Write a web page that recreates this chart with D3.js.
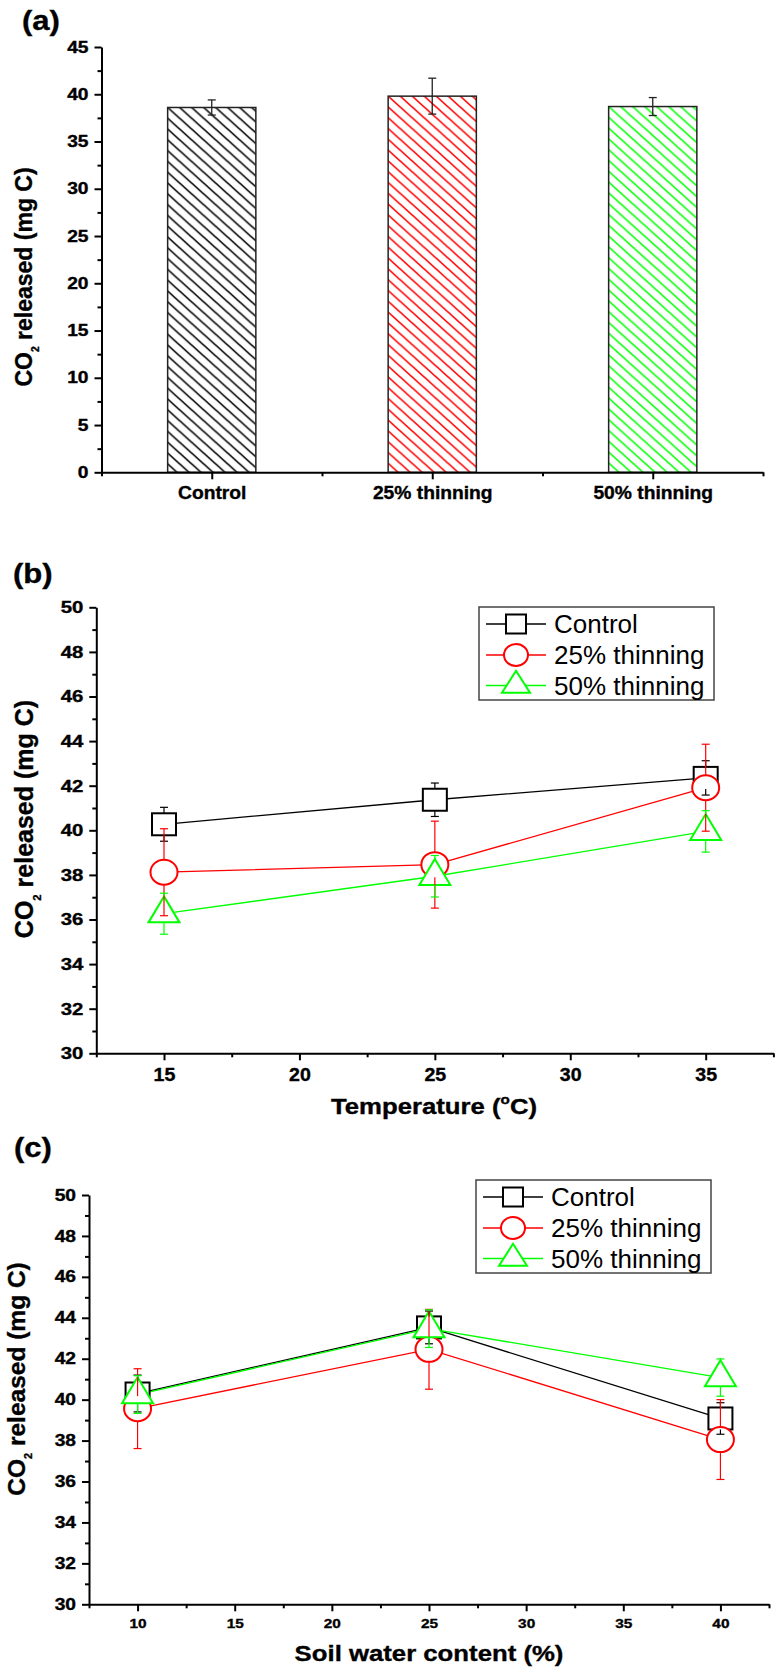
<!DOCTYPE html>
<html>
<head>
<meta charset="utf-8">
<script src="https://cdn.jsdelivr.net/npm/d3@7"></script>
<style>
  body { margin: 0; background: #fff; }
  svg { display: block; }
</style>
</head>
<body>
<script>
// ---------- data ----------
// (a) cumulative CO2 released per treatment
const barCategories = ["Control", "25% thinning", "50% thinning"];
const barMeans = [38.6, 39.8, 38.7];
const barErrors = [0.8, 1.9, 0.95];

// series shared by panels (b) and (c)
const seriesNames = ["Control", "25% thinning", "50% thinning"];
const seriesColors = ["#000000", "#ff0000", "#00ff00"];
const seriesShapes = ["square", "circle", "triangle"];

// (b) incubation temperature
const temperatures = [15, 25, 35];
const tempControl = [40.27, 41.37, 42.35];
const tempControlErr = [0.76, 0.75, 0.77];
const temp25 = [38.12, 38.46, 41.91];
const temp25Err = [1.95, 1.95, 1.95];
const temp50 = [36.26, 37.94, 39.95];
const temp50Err = [0.92, 0.93, 0.93];

// (c) soil water content
const waterContents = [10, 25, 40];
const waterControl = [40.3, 43.53, 39.08];
const waterControlErr = [0.9, 0.8, 0.77];
const water25 = [39.56, 42.46, 38.05];
const water25Err = [1.95, 1.95, 1.95];
const water50 = [40.25, 43.47, 41.08];
const water50Err = [0.92, 0.92, 0.91];

// axis ticks
const barYTicks = d3.range(0, 46, 5);
const barYMinor = d3.range(2.5, 45, 5);
const lineYTicks = d3.range(30, 51, 2);
const lineYMinor = d3.range(31, 50, 2);
const tempTicks = [15, 20, 25, 30, 35];
const tempMinor = [12.5, 17.5, 22.5, 27.5, 32.5, 37.5];
const waterTicks = [10, 15, 20, 25, 30, 35, 40];
const waterMinor = [7.5, 12.5, 17.5, 22.5, 27.5, 32.5, 37.5, 42.5];

// ---------- helpers ----------
const FONT = "'Liberation Sans', Arial, Helvetica, sans-serif";
const svg = d3.select("body").append("svg").attr("width", 776).attr("height", 1675);
const defs = svg.append("defs");

// heavier bold text: thin outline in the fill colour
function heavy(sel) {
  return sel.attr("stroke", "#000").attr("stroke-width", 0.35).attr("paint-order", "stroke");
}

// widen glyphs horizontally around each label's anchor point
function stretch(sel, k) {
  sel.each(function () {
    const t = d3.select(this);
    const x = +t.attr("x") || 0;
    t.attr("transform", `translate(${x * (1 - k)},0) scale(${k},1)`);
  });
}

function label(text, x, y, size, anchor, k) {
  return heavy(svg.append("text")
    .attr("transform", `translate(${x},${y}) scale(${k},1)`)
    .attr("text-anchor", anchor)
    .attr("font-family", FONT)
    .attr("font-weight", "bold")
    .attr("font-size", size)
    .attr("fill", "#000")
    .style("white-space", "pre")
    .text(text));
}

function yTitle(cx, cy, size) {
  const t = heavy(svg.append("text")
    .attr("transform", `translate(${cx},${cy}) rotate(-90)`)
    .attr("text-anchor", "middle")
    .attr("font-family", FONT)
    .attr("font-weight", "bold")
    .attr("font-size", size)
    .style("white-space", "pre"));
  t.append("tspan").text("CO");
  t.append("tspan").attr("font-size", size * 0.45).attr("dy", size * 0.3).text("2");
  t.append("tspan").attr("dy", -size * 0.3).text(" released (mg C)");
}

function styleAxis(ax, fontSize, k) {
  ax.select(".domain").attr("stroke", "#000").attr("stroke-width", 2);
  ax.selectAll(".tick line").attr("stroke", "#000").attr("stroke-width", 2);
  const txt = heavy(ax.selectAll(".tick text")
    .attr("font-family", FONT)
    .attr("font-weight", "bold")
    .attr("font-size", fontSize)
    .attr("fill", "#000"));
  stretch(txt, k);
}

function leftAxis(x0, y, ticks, minor, fontSize, k) {
  const ax = svg.append("g").attr("transform", `translate(${x0},0)`)
    .call(d3.axisLeft(y).tickValues(ticks).tickSize(7).tickPadding(6)
      .tickSizeOuter(0).tickFormat(d3.format("d")));
  styleAxis(ax, fontSize, k);
  const mn = svg.append("g").attr("transform", `translate(${x0},0)`)
    .call(d3.axisLeft(y).tickValues(minor).tickSize(4).tickFormat(""));
  mn.select(".domain").remove();
  mn.selectAll(".tick line").attr("stroke", "#000").attr("stroke-width", 2);
}

function bottomAxis(y0, x, ticks, fmt, minor, fontSize, k, labelDy) {
  const ax = svg.append("g").attr("transform", `translate(0,${y0})`)
    .call(d3.axisBottom(x).tickValues(ticks).tickSize(7).tickSizeOuter(0).tickFormat(fmt));
  styleAxis(ax, fontSize, k);
  ax.selectAll(".tick text").attr("y", labelDy).attr("dy", null);
  const mn = svg.append("g").attr("transform", `translate(0,${y0})`)
    .call(d3.axisBottom(x).tickValues(minor).tickSize(4).tickFormat(""));
  mn.select(".domain").remove();
  mn.selectAll(".tick line").attr("stroke", "#000").attr("stroke-width", 2);
}

// marker geometry: drawing + vertical extent above/below the centre
const markerDims = {
  plot:   { square: [24, 22], circle: [27, 25], triangle: [31, 26] },
  legend: { square: [20, 19], circle: [24, 22], triangle: [28, 22] }
};
function markerExtent(shape, w, h) {
  if (shape === "triangle") return [h * 2 / 3, h / 3];
  return [h / 2, h / 2];
}
function drawMarker(g, shape, cx, cy, w, h, color) {
  let m;
  if (shape === "square") {
    m = g.append("rect").attr("x", cx - w / 2).attr("y", cy - h / 2).attr("width", w).attr("height", h);
  } else if (shape === "circle") {
    m = g.append("ellipse").attr("cx", cx).attr("cy", cy).attr("rx", w / 2).attr("ry", h / 2);
  } else {
    const top = cy - h * 2 / 3, base = cy + h / 3;
    m = g.append("path").attr("d", `M${cx},${top}L${cx + w / 2},${base}L${cx - w / 2},${base}Z`);
  }
  m.attr("fill", "#fff").attr("stroke", color).attr("stroke-width", 2).attr("stroke-linejoin", "miter");
}

function legend(x0, y0) {
  const g = svg.append("g");
  g.append("rect").attr("x", x0).attr("y", y0).attr("width", 235).attr("height", 93)
    .attr("fill", "#fff").attr("stroke", "#444").attr("stroke-width", 1.5);
  const rows = [17, 48, 78.5];
  seriesNames.forEach((name, i) => {
    const cy = y0 + rows[i];
    g.append("line").attr("x1", x0 + 7).attr("x2", x0 + 67).attr("y1", cy).attr("y2", cy)
      .attr("stroke", seriesColors[i]).attr("stroke-width", 1.3);
    const [w, h] = markerDims.legend[seriesShapes[i]];
    drawMarker(g, seriesShapes[i], x0 + 37, cy, w, h, seriesColors[i]);
    g.append("text").attr("x", x0 + 75).attr("y", cy + 9)
      .attr("font-family", FONT).attr("font-size", 26).attr("fill", "#000")
      .text(name);
  });
}

function linePanel(x, y, levels, values, errors) {
  const g = svg.append("g");
  const line = d3.line().x((d, j) => x(levels[j])).y(d => y(d));
  // connecting lines
  values.forEach((vals, i) => {
    g.append("path").datum(vals).attr("d", line).attr("fill", "none")
      .attr("stroke", seriesColors[i]).attr("stroke-width", 1.3);
  });
  // symbols
  values.forEach((vals, i) => {
    const [w, h] = markerDims.plot[seriesShapes[i]];
    vals.forEach((v, j) => drawMarker(g, seriesShapes[i], x(levels[j]), y(v), w, h, seriesColors[i]));
  });
  // error bars start at the symbol edge
  values.forEach((vals, i) => {
    const [w, h] = markerDims.plot[seriesShapes[i]];
    const [up, down] = markerExtent(seriesShapes[i], w, h);
    vals.forEach((v, j) => {
      const cx = x(levels[j]), cy = y(v);
      const yt = y(v + errors[i][j]), yb = y(v - errors[i][j]);
      const eg = g.append("g").attr("stroke", seriesColors[i]).attr("stroke-width", 1.2);
      if (yt < cy - up) eg.append("line").attr("x1", cx).attr("x2", cx).attr("y1", yt).attr("y2", cy - up);
      if (yb > cy + down) eg.append("line").attr("x1", cx).attr("x2", cx).attr("y1", cy + down).attr("y2", yb);
      eg.append("line").attr("x1", cx - 4).attr("x2", cx + 4).attr("y1", yt).attr("y2", yt);
      eg.append("line").attr("x1", cx - 4).attr("x2", cx + 4).attr("y1", yb).attr("y2", yb);
    });
  });
}

// ---------- (a) bar chart ----------
const xA = d3.scaleLinear().domain([0.5, 3.5]).range([101.5, 763]);
const yA = d3.scaleLinear().domain([0, 45]).range([472.3, 47]);
const barW = xA(1.2) - xA(0.8);
const hatchColors = ["#000000", "#ff0000", "#00ff00"];

barCategories.forEach((c, i) => {
  const bx = xA(i + 1) - barW / 2, by = yA(barMeans[i]);
  const p = defs.append("pattern").attr("id", "hatch" + i)
    .attr("patternUnits", "userSpaceOnUse")
    .attr("x", bx).attr("y", by).attr("width", 12).attr("height", 10.8);
  p.append("rect").attr("width", 12).attr("height", 10.8).attr("fill", "#fff");
  p.append("path").attr("d", "M-1,-0.9L13,11.7M11,-0.9L13,0.9M-1,9.9L1,11.7")
    .attr("stroke", hatchColors[i]).attr("stroke-width", 1.6).attr("fill", "none");
  svg.append("rect").attr("x", bx).attr("y", by).attr("width", barW).attr("height", yA(0) - by)
    .attr("fill", `url(#hatch${i})`).attr("stroke", "#222").attr("stroke-width", 1.5);
  const cx = xA(i + 1), yt = yA(barMeans[i] + barErrors[i]), yb = yA(barMeans[i] - barErrors[i]);
  const eg = svg.append("g").attr("stroke", "#222").attr("stroke-width", 1.3);
  eg.append("line").attr("x1", cx).attr("x2", cx).attr("y1", yt).attr("y2", yb);
  eg.append("line").attr("x1", cx - 4).attr("x2", cx + 4).attr("y1", yt).attr("y2", yt);
  eg.append("line").attr("x1", cx - 4).attr("x2", cx + 4).attr("y1", yb).attr("y2", yb);
});
leftAxis(101.5, yA, barYTicks, barYMinor, 16, 1.2);
bottomAxis(472.3, xA, [1, 2, 3], d => barCategories[d - 1], [0.5, 1.5, 2.5, 3.5], 17.5, 1.1, 27);
yTitle(32, 277, 23);
label("(a)", 22, 30, 27, "start", 1.15);

// ---------- (b) temperature ----------
const xB = d3.scaleLinear().domain([12.5, 37.5]).range([96.3, 773.4]);
const yB = d3.scaleLinear().domain([30, 50]).range([1053.3, 607.3]);
linePanel(xB, yB, temperatures, [tempControl, temp25, temp50], [tempControlErr, temp25Err, temp50Err]);
leftAxis(96.3, yB, lineYTicks, lineYMinor, 17, 1.2);
bottomAxis(1053.3, xB, tempTicks, d3.format("d"), tempMinor, 17.5, 1.12, 28);
legend(479, 607);
yTitle(33, 819, 25);
{
  const t = label("", 434, 1114, 22, "middle", 1.17);
  t.append("tspan").text("Temperature (");
  t.append("tspan").attr("font-size", 13).attr("dy", -10).text("o");
  t.append("tspan").attr("dy", 10).text("C)");
}
label("(b)", 13, 583, 27, "start", 1.15);

// ---------- (c) soil water ----------
const xC = d3.scaleLinear().domain([7.5, 42.5]).range([89, 769]);
const yC = d3.scaleLinear().domain([30, 50]).range([1604.3, 1195]);
linePanel(xC, yC, waterContents, [waterControl, water25, water50], [waterControlErr, water25Err, water50Err]);
leftAxis(89, yC, lineYTicks, lineYMinor, 16, 1.2);
bottomAxis(1604.3, xC, waterTicks, d3.format("d"), waterMinor, 13.5, 1.14, 24);
legend(476, 1180);
yTitle(25, 1379, 24.5);
label("Soil water content (%)", 429, 1661, 22, "middle", 1.17);
label("(c)", 14, 1157, 27, "start", 1.15);
</script>
</body>
</html>
